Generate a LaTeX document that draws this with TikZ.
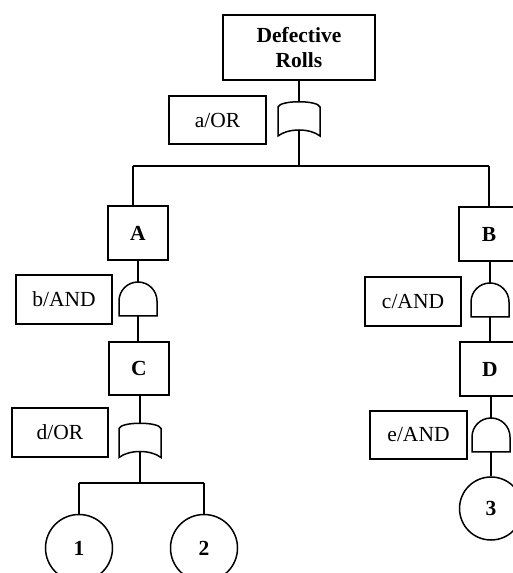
\documentclass[tikz,border=0pt]{standalone}
\usepackage{fontspec}
\setmainfont{Liberation Serif}
\usetikzlibrary{positioning}

\begin{document}
\begin{tikzpicture}[
  x=1pt, y=1pt, line width=1.5pt,
  font=\fontsize{21.5}{25}\selectfont,
  event/.style={rectangle,draw,minimum width=60pt,minimum height=54pt,inner sep=0pt,
    font=\fontsize{21.5}{25}\selectfont\bfseries},
  gatelbl/.style={rectangle,draw,minimum width=96pt,minimum height=49pt,inner sep=0pt},
  basic/.style={circle,draw,minimum size=66pt,inner sep=0pt,
    font=\fontsize{21.5}{25}\selectfont\bfseries},
  orgate/.pic={
    \draw (-21,-17) -- (-21,12) .. controls (-19,19) and (19,19) .. (21,12)
      -- (21,-17) .. controls (11,-9) and (-11,-9) .. (-21,-17) -- cycle;
    \coordinate (-top) at (0,17);
    \coordinate (-bot) at (0,-11);
  },
  andgate/.pic={
    \draw (-19,-17) -- (-19,-2) arc[start angle=180,end angle=0,radius=19]
      -- (19,-17) -- cycle;
    \coordinate (-top) at (0,17);
    \coordinate (-bot) at (0,-17);
  },
]
  \clip (0,0) rectangle (513,573);
  % top event
  \node[event,minimum width=152pt,minimum height=65pt,align=center] (top) at (299,525.5) {Defective\\Rolls};
  \pic (ga) at (299,454) {orgate};
  \node[gatelbl,minimum width=97pt,minimum height=48pt] (la) at (217.5,453) {a/OR};
  \coordinate (busL) at (133,407);
  \coordinate (busR) at (489,407);
  \draw (ga-top) -- (ga-top |- top.south);
  \draw (ga-bot) -- (ga-bot |- busL);
  \draw (busL) -- (busR);
  % left branch
  \node[event] (A) at (138,340) {A};
  \pic (gb) at (138,274) {andgate};
  \node[gatelbl] (lb) at (64,273.5) {b/AND};
  \node[event,minimum height=53pt] (C) at (139,204.5) {C};
  \pic (gd) at (140,132.5) {orgate};
  \node[gatelbl] (ld) at (60,140.5) {d/OR};
  \draw (busL) -- (busL |- A.north);
  \draw (gb-top) -- (gb-top |- A.south);
  \draw (gb-bot) -- (gb-bot |- C.north);
  \draw (gd-top) -- (gd-top |- C.south);
  \coordinate (bus2L) at (79,90);
  \coordinate (bus2R) at (204,90);
  \draw (gd-bot) -- (gd-bot |- bus2L);
  \draw (bus2L) -- (bus2R);
  \node[basic,minimum size=67pt] (e1) at (79,25) {1};
  \node[basic,minimum size=67pt] (e2) at (204,25) {2};
  \draw (bus2L) -- (e1);
  \draw (bus2R) -- (e2);
  % right branch
  \node[event] (B) at (489,339) {B};
  \pic (gc) at (490,273) {andgate};
  \node[gatelbl] (lc) at (413,271.5) {c/AND};
  \node[event] (D) at (490,204) {D};
  \pic (ge) at (491,138) {andgate};
  \node[gatelbl,minimum width=97pt,minimum height=48pt] (le) at (418.5,138) {e/AND};
  \node[basic,minimum size=63pt] (e3) at (491,64.5) {3};
  \draw (busR) -- (B.north);
  \draw (gc-top) -- (gc-top |- B.south);
  \draw (gc-bot) -- (gc-bot |- D.north);
  \draw (ge-top) -- (ge-top |- D.south);
  \draw (ge-bot) -- (e3);
\end{tikzpicture}
\end{document}
